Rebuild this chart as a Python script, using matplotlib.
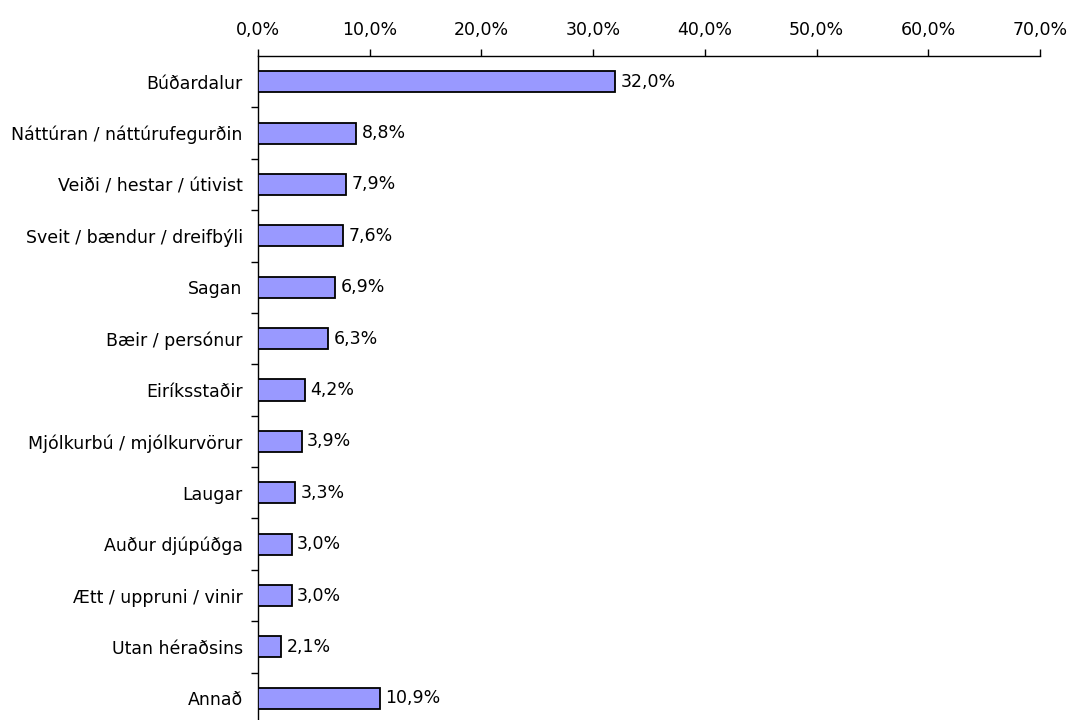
import matplotlib
matplotlib.use("Agg")
import matplotlib.pyplot as plt
from matplotlib.ticker import FixedLocator, FuncFormatter

plt.rcParams["font.family"] = ["DejaVu Sans"]

categories = ["Búðardalur", "Náttúran / náttúrufegurðin", "Veiði / hestar / útivist",
              "Sveit / bændur / dreifbýli", "Sagan", "Bæir / persónur", "Eiríksstaðir",
              "Mjólkurbú / mjólkurvörur", "Laugar", "Auður djúpúðga",
              "Ætt / uppruni / vinir", "Utan héraðsins", "Annað"]
values = [32.0, 8.8, 7.9, 7.6, 6.9, 6.3, 4.2, 3.9, 3.3, 3.0, 3.0, 2.1, 10.9]
xticks = [0, 10, 20, 30, 40, 50, 60, 70]

FS = 12.5
W, H = 1071, 720
fig = plt.figure(figsize=(W / 100, H / 100), dpi=100)
left, right, top, bottom = 258, 1040, 56, 724
ax = fig.add_axes([left / W, (H - bottom) / H, (right - left) / W, (bottom - top) / H])

n = len(categories)
pos = list(range(n))
ax.barh(pos, values, height=0.41, color="#9999FF", edgecolor="black", linewidth=1.3, zorder=3)
for p, v in zip(pos, values):
    ax.annotate(f"{v:.1f}%".replace(".", ","), xy=(v, p), xytext=(4, 0),
                textcoords="offset points", va="center", ha="left", fontsize=FS)

ax.set_xlim(0, 70)
ax.set_ylim(n - 0.5, -0.5)
ax.xaxis.tick_top()
ax.set_xticks(xticks)
ax.xaxis.set_major_formatter(FuncFormatter(lambda x, _: f"{x:.1f}%".replace(".", ",")))
ax.tick_params(axis="x", direction="out", length=5, width=1, labelsize=FS, pad=7)

ax.set_yticks(pos)
ax.set_yticklabels(categories, fontsize=FS)
ax.tick_params(axis="y", which="major", length=0, pad=11)
ax.yaxis.set_minor_locator(FixedLocator([p + 0.5 for p in pos]))
ax.tick_params(axis="y", which="minor", direction="out", length=5, width=1)

for s in ["right", "bottom"]:
    ax.spines[s].set_visible(False)
for s in ["left", "top"]:
    ax.spines[s].set_linewidth(1)

fig.savefig("out.png", dpi=100)
